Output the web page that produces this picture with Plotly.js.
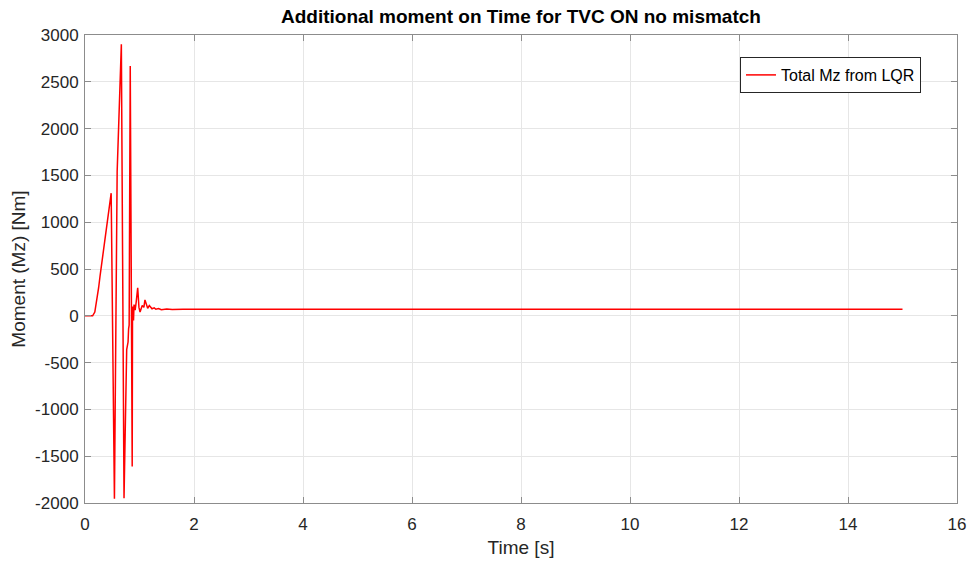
<!DOCTYPE html>
<html>
<head>
<meta charset="utf-8">
<script src="https://cdn.plot.ly/plotly-3.0.1.min.js"></script>
<style>
  html, body { margin: 0; padding: 0; background: #ffffff; }
  #chart { width: 971px; height: 561px; }
</style>
</head>
<body>
<div id="chart"></div>
<script>
// Time samples [s] of the LQR moment response
const timeS = [
  0, 0.14, 0.18, 0.21, 0.25, 0.275, 0.32, 0.367, 0.397, 0.43, 0.44, 0.46, 0.48,
  0.54, 0.578, 0.59, 0.667, 0.716, 0.765, 0.78, 0.79, 0.80, 0.81, 0.83, 0.866,
  0.872, 0.88, 0.89, 0.90, 0.92, 0.94, 0.967, 0.99, 1.01, 1.05, 1.08, 1.10, 1.13,
  1.15, 1.18, 1.20, 1.23, 1.27, 1.30, 1.35, 1.40, 1.50, 1.60, 1.80, 2.0, 2.5,
  3.0, 3.5, 4.0, 4.5, 5.0, 5.5, 6.0, 6.5, 7.0, 7.5, 8.0, 8.5, 9.0, 9.5, 10.0,
  10.5, 11.0, 11.5, 12.0, 12.5, 13.0, 13.5, 14.0, 14.5, 15.0
];

// Total Mz from LQR [Nm]
const totalMz = [
  0, 0, 40, 135, 300, 420, 620, 811, 1000, 1113, 1167, 1230, 1310,
  -1954, 1523, 1540, 2900, -1950, -360, -290, -280, -140, -100, 2670, -1610,
  100, -40, -50, 120, 60, 150, 300, 90, 40, 110, 90, 170, 120,
  80, 110, 90, 75, 85, 70, 78, 65, 72, 68, 70, 71, 69,
  70, 71, 69, 70, 71, 70, 69, 71, 70, 70, 71, 69, 70, 71, 70,
  69, 70, 71, 70, 69, 70, 71, 70, 70, 70
];

// Axis ticks
const xTicks = [0, 2, 4, 6, 8, 10, 12, 14, 16];
const yTicks = [-2000, -1500, -1000, -500, 0, 500, 1000, 1500, 2000, 2500, 3000];
const yTickText = yTicks.map(v => String(v));

const seriesName = 'Total Mz from LQR';
const chartTitle = 'Additional moment on Time for TVC ON no mismatch';

const fontFamily = 'Liberation Sans, Arial, Helvetica, sans-serif';
const axisColor = '#262626';
const gridColor = '#e6e6e6';

const trace = {
  x: timeS,
  y: totalMz,
  type: 'scatter',
  mode: 'lines',
  name: seriesName,
  line: { color: '#ff0000', width: 1.5 },
  showlegend: true
};

const axisBase = {
  showline: true,
  mirror: 'ticks',
  linecolor: '#8c8c8c',
  linewidth: 1,
  ticks: 'inside',
  ticklen: 6,
  tickcolor: '#8c8c8c',
  showgrid: true,
  gridcolor: gridColor,
  gridwidth: 1,
  zeroline: false,
  tickfont: { family: fontFamily, size: 17, color: axisColor }
};

const layout = {
  width: 971,
  height: 561,
  margin: { l: 85, r: 14, t: 35, b: 58 },
  paper_bgcolor: '#ffffff',
  plot_bgcolor: '#ffffff',
  title: {
    text: '<b>' + chartTitle + '</b>',
    font: { family: fontFamily, size: 19, color: '#000000' },
    x: 0.5365,
    xanchor: 'center',
    y: 0.97,
    yanchor: 'middle'
  },
  xaxis: Object.assign({}, axisBase, {
    range: [0, 16],
    tickvals: xTicks,
    ticktext: xTicks.map(v => String(v)),
    ticklabelstandoff: 6,
    title: { text: 'Time [s]', font: { family: fontFamily, size: 19, color: axisColor }, standoff: 7 }
  }),
  yaxis: Object.assign({}, axisBase, {
    range: [-2000, 3000],
    tickvals: yTicks,
    ticktext: yTickText,
    ticklabelstandoff: 2,
    title: { text: 'Moment (Mz) [Nm]', font: { family: fontFamily, size: 19, color: axisColor }, standoff: 4 }
  }),
  legend: {
    x: 0.9587,
    y: 0.953,
    xanchor: 'right',
    yanchor: 'top',
    bgcolor: '#ffffff',
    bordercolor: '#262626',
    borderwidth: 1,
    font: { family: fontFamily, size: 16, color: '#000000' },
    itemwidth: 30,
    tracegroupgap: 0
  }
};

Plotly.newPlot('chart', [trace], layout, { displayModeBar: false, staticPlot: true });
</script>
</body>
</html>
